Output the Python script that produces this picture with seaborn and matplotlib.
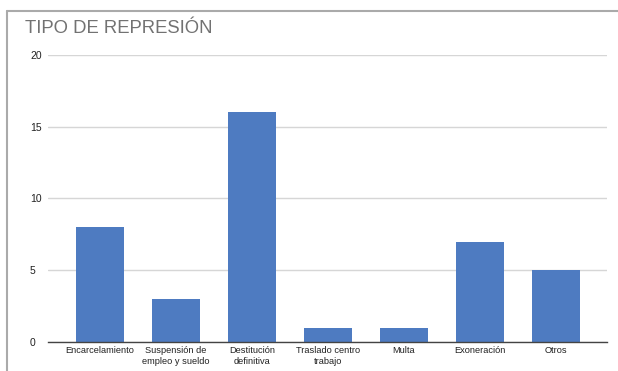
import matplotlib
matplotlib.use("Agg")
import matplotlib.pyplot as plt
import seaborn as sns
import pandas as pd
from matplotlib.lines import Line2D

categories = ["Encarcelamiento", "Suspensión de\nempleo y sueldo", "Destitución\ndefinitiva",
              "Traslado centro\ntrabajo", "Multa", "Exoneración", "Otros"]
values = [8, 3, 16, 1, 1, 7, 5]
yticks = [0, 5, 10, 15, 20]

df = pd.DataFrame({"cat": categories, "val": values})

sns.set_theme(style="white")
plt.rcParams['font.family'] = ['Liberation Sans', 'DejaVu Sans']

W, H = 618, 371
fig = plt.figure(figsize=(W/100, H/100), dpi=100)
ax = fig.add_axes([48/W, 1-342/H, (607-48)/W, (342-55)/H])

sns.barplot(data=df, x="cat", y="val", color="#4e7bc1", saturation=1, width=0.63,
            linewidth=0, ax=ax)

ax.set_ylim(0, 20)
ax.set_xlim(-0.684, 6.67)
ax.set_yticks(yticks)
ax.set_yticklabels([str(t) for t in yticks], fontsize=7.5, color="#222222")
ax.tick_params(axis='x', labelsize=6.7, colors="#222222", length=0, pad=3)
ax.tick_params(axis='y', length=0, pad=13)
for lab in ax.get_yticklabels():
    lab.set_horizontalalignment('left')
ax.yaxis.grid(True, color="#d6d6d6", linewidth=1)
ax.set_axisbelow(True)
for s in ["top", "right", "left"]:
    ax.spines[s].set_visible(False)
ax.spines["bottom"].set_color("#444444")
ax.spines["bottom"].set_linewidth(1)
ax.set_xlabel("")
ax.set_ylabel("")

fig.text(25/W, 1-33/H, "TIPO DE REPRESIÓN", fontsize=13.3, color="#727272", ha="left", va="baseline")

fig.add_artist(Line2D([7/W, 7/W], [0, 1-11/H], color="#aaaaaa", linewidth=1.5, transform=fig.transFigure))
fig.add_artist(Line2D([7/W, 1], [1-11/H, 1-11/H], color="#aaaaaa", linewidth=1.5, transform=fig.transFigure))

fig.savefig("out.png", dpi=100)
